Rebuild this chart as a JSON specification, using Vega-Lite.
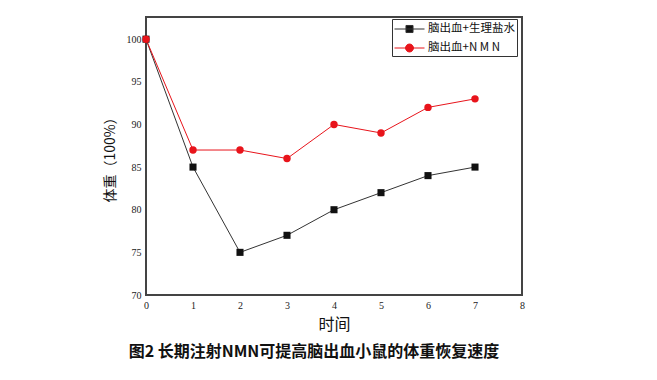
{
  "$schema": "https://vega.github.io/schema/vega-lite/v6.json",
  "width": 376,
  "height": 278,
  "autosize": {"type": "none"},
  "padding": {"left": 146, "top": 17, "right": 135, "bottom": 85},
  "background": "white",
  "config": {
    "view": {"stroke": "#444", "strokeWidth": 2},
    "axis": {"grid": false, "domain": false, "ticks": false, "labelFlush": false, "labelFont": "Liberation Serif", "labelFontSize": 10, "labelColor": "#222", "titleFont": "Noto Sans CJK SC", "titleFontWeight": "normal", "titleColor": "#111"}
  },
  "title": {
    "text": "图2 长期注射NMN可提高脑出血小鼠的体重恢复速度",
    "orient": "bottom",
    "anchor": "middle",
    "frame": "group",
    "font": "Noto Sans CJK SC",
    "fontSize": 16,
    "fontWeight": "bold",
    "color": "#111",
    "offset": 12,
    "dx": -20
  },
  "data": {
    "values": [
      {"t": 0, "w": 100, "g": "脑出血+生理盐水"},
      {"t": 1, "w": 85, "g": "脑出血+生理盐水"},
      {"t": 2, "w": 75, "g": "脑出血+生理盐水"},
      {"t": 3, "w": 77, "g": "脑出血+生理盐水"},
      {"t": 4, "w": 80, "g": "脑出血+生理盐水"},
      {"t": 5, "w": 82, "g": "脑出血+生理盐水"},
      {"t": 6, "w": 84, "g": "脑出血+生理盐水"},
      {"t": 7, "w": 85, "g": "脑出血+生理盐水"},
      {"t": 0, "w": 100, "g": "脑出血+N M N"},
      {"t": 1, "w": 87, "g": "脑出血+N M N"},
      {"t": 2, "w": 87, "g": "脑出血+N M N"},
      {"t": 3, "w": 86, "g": "脑出血+N M N"},
      {"t": 4, "w": 90, "g": "脑出血+N M N"},
      {"t": 5, "w": 89, "g": "脑出血+N M N"},
      {"t": 6, "w": 92, "g": "脑出血+N M N"},
      {"t": 7, "w": 93, "g": "脑出血+N M N"}
    ]
  },
  "encoding": {
    "x": {"field": "t", "type": "quantitative", "scale": {"domain": [0, 8], "nice": false, "zero": false}, "axis": {"values": [0,1,2,3,4,5,6,7,8], "title": "时间", "titleFontSize": 16, "titlePadding": 6, "labelPadding": 5}},
    "y": {"field": "w", "type": "quantitative", "scale": {"domain": [70, 102.6], "nice": false, "zero": false}, "axis": {"values": [70,75,80,85,90,95,100], "title": "体重（100%）", "titleFontSize": 14, "titlePadding": 9, "labelPadding": 5}}
  },
  "layer": [
    {
      "mark": {"type": "line", "strokeWidth": 1},
      "encoding": {
        "stroke": {"field": "g", "type": "nominal", "scale": {"domain": ["脑出血+生理盐水", "脑出血+N M N"], "range": ["#333333", "#e8141b"]},
          "legend": {
            "title": null,
            "orient": "none",
            "legendX": 246,
            "legendY": 2,
            "padding": 2,
            "strokeColor": "#333",
            "fillColor": "white",
            "labelFont": "Noto Sans CJK SC",
            "labelFontSize": 11.5,
            "labelColor": "#111",
            "labelOffset": 18,
            "symbolSize": 225,
            "rowPadding": 5,
            "encode": {
              "symbols": {
                "update": {
                  "shape": {"signal": "datum.value === '脑出血+N M N' ? 'M-1,0H3M1.53,0A0.53,0.53 0 1 1 0.47,0A0.53,0.53 0 1 1 1.53,0Z' : 'M-1,0H3M0.53,-0.47H1.47V0.47H0.53Z'"},
                  "fill": {"signal": "datum.value === '脑出血+N M N' ? '#e8141b' : '#111111'"},
                  "stroke": {"signal": "datum.value === '脑出血+N M N' ? '#e8141b' : '#333333'"},
                  "strokeWidth": {"value": 1},
                  "opacity": {"value": 1},
                  "fillOpacity": {"value": 1}
                }
              }
            }
          }
        }
      }
    },
    {
      "transform": [{"filter": "datum.g === '脑出血+生理盐水'"}],
      "mark": {"type": "point", "filled": true, "opacity": 1, "shape": "square", "size": 50, "color": "#111111"}
    },
    {
      "transform": [{"filter": "datum.g === '脑出血+N M N'"}],
      "mark": {"type": "point", "filled": true, "opacity": 1, "shape": "circle", "size": 55, "color": "#e8141b"}
    }
  ]
}
